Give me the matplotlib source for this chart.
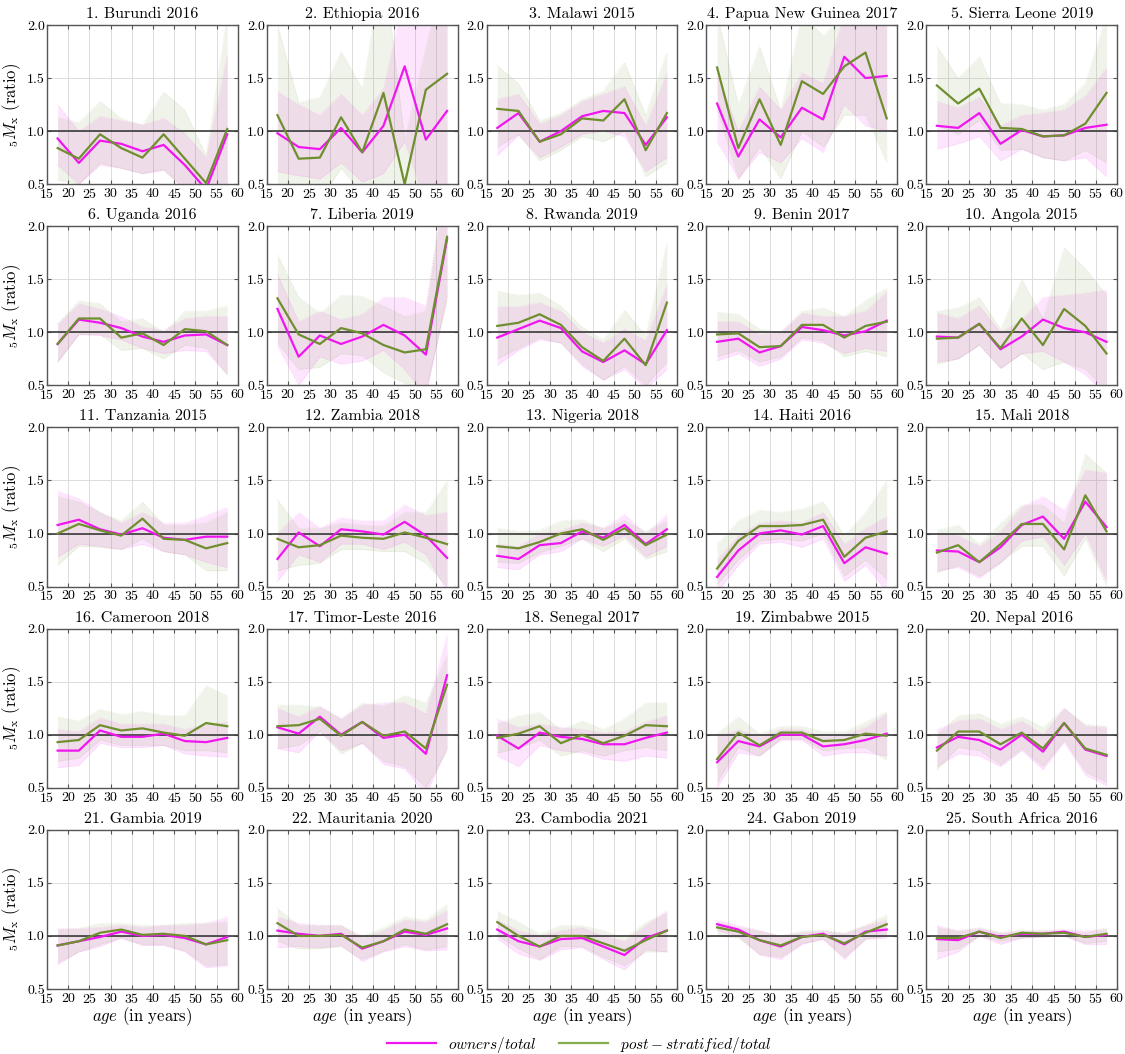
import matplotlib
matplotlib.use("Agg")
import matplotlib.pyplot as plt
from matplotlib.lines import Line2D
import numpy as np

ages = [17.5, 22.5, 27.5, 32.5, 37.5, 42.5, 47.5, 52.5, 57.5]

titles = ["1. Burundi 2016", "2. Ethiopia 2016", "3. Malawi 2015", "4. Papua New Guinea 2017",
          "5. Sierra Leone 2019", "6. Uganda 2016", "7. Liberia 2019", "8. Rwanda 2019",
          "9. Benin 2017", "10. Angola 2015", "11. Tanzania 2015", "12. Zambia 2018",
          "13. Nigeria 2018", "14. Haiti 2016", "15. Mali 2018", "16. Cameroon 2018",
          "17. Timor-Leste 2016", "18. Senegal 2017", "19. Zimbabwe 2015", "20. Nepal 2016",
          "21. Gambia 2019", "22. Mauritania 2020", "23. Cambodia 2021", "24. Gabon 2019",
          "25. South Africa 2016"]

owners = [
    [0.93, 0.70, 0.91, 0.88, 0.81, 0.87, 0.68, 0.45, 0.97],
    [0.98, 0.85, 0.83, 1.03, 0.80, 1.05, 1.61, 0.92, 1.19],
    [1.03, 1.17, 0.90, 1.00, 1.14, 1.19, 1.17, 0.87, 1.13],
    [1.26, 0.76, 1.11, 0.94, 1.22, 1.11, 1.70, 1.50, 1.52],
    [1.05, 1.03, 1.17, 0.88, 1.01, 0.95, 0.96, 1.03, 1.06],
    [0.89, 1.12, 1.09, 1.04, 0.96, 0.91, 0.97, 0.98, 0.88],
    [1.22, 0.77, 0.97, 0.89, 0.96, 1.07, 0.97, 0.79, 1.88],
    [0.95, 1.03, 1.11, 1.04, 0.82, 0.72, 0.83, 0.70, 1.02],
    [0.91, 0.94, 0.81, 0.87, 1.05, 1.02, 0.97, 1.01, 1.11],
    [0.96, 0.95, 1.08, 0.84, 0.96, 1.12, 1.04, 1.00, 0.91],
    [1.08, 1.13, 1.04, 0.99, 1.05, 0.96, 0.94, 0.97, 0.97],
    [0.76, 1.01, 0.88, 1.04, 1.02, 0.99, 1.11, 0.98, 0.77],
    [0.79, 0.76, 0.89, 0.91, 1.02, 0.96, 1.08, 0.90, 1.04],
    [0.59, 0.84, 1.00, 1.03, 0.99, 1.07, 0.72, 0.87, 0.81],
    [0.84, 0.83, 0.73, 0.87, 1.08, 1.16, 0.95, 1.30, 1.06],
    [0.85, 0.85, 1.04, 0.98, 0.98, 1.01, 0.94, 0.93, 0.97],
    [1.07, 1.01, 1.17, 1.00, 1.12, 0.97, 1.00, 0.82, 1.56],
    [0.99, 0.87, 1.02, 0.98, 0.96, 0.91, 0.91, 0.97, 1.02],
    [0.74, 0.94, 0.89, 1.00, 1.00, 0.89, 0.91, 0.95, 1.01],
    [0.88, 0.98, 0.95, 0.86, 1.00, 0.84, 1.11, 0.86, 0.80],
    [0.91, 0.95, 0.99, 1.04, 1.00, 1.01, 0.98, 0.92, 0.99],
    [1.05, 1.02, 1.00, 1.02, 0.88, 0.95, 1.04, 1.01, 1.07],
    [1.06, 0.95, 0.90, 0.97, 0.98, 0.90, 0.82, 0.98, 1.05],
    [1.11, 1.06, 0.96, 0.90, 0.99, 1.02, 0.92, 1.04, 1.06],
    [0.97, 0.96, 1.04, 0.99, 1.02, 1.02, 1.04, 0.99, 1.01],
]

owners_lo = [
    [0.68, 0.50, 0.68, 0.65, 0.60, 0.63, 0.45, 0.30, 0.50],
    [0.62, 0.58, 0.55, 0.70, 0.52, 0.60, 0.90, 0.30, 0.30],
    [0.77, 0.96, 0.75, 0.85, 0.97, 1.00, 0.95, 0.62, 0.75],
    [0.90, 0.55, 0.80, 0.70, 0.93, 0.80, 1.25, 1.05, 1.00],
    [0.83, 0.88, 0.95, 0.72, 0.83, 0.75, 0.72, 0.75, 0.57],
    [0.72, 0.98, 0.97, 0.93, 0.85, 0.80, 0.83, 0.82, 0.60],
    [0.87, 0.50, 0.77, 0.70, 0.73, 0.83, 0.65, 0.40, 1.35],
    [0.69, 0.83, 0.93, 0.90, 0.68, 0.55, 0.65, 0.47, 0.65],
    [0.73, 0.80, 0.68, 0.75, 0.93, 0.90, 0.80, 0.85, 0.82],
    [0.72, 0.75, 0.88, 0.66, 0.80, 0.82, 0.72, 0.60, 0.40],
    [0.78, 0.90, 0.88, 0.85, 0.90, 0.83, 0.80, 0.73, 0.68],
    [0.55, 0.80, 0.73, 0.90, 0.90, 0.85, 0.92, 0.80, 0.45],
    [0.68, 0.66, 0.80, 0.83, 0.95, 0.88, 0.98, 0.78, 0.88],
    [0.45, 0.70, 0.90, 0.92, 0.87, 0.95, 0.55, 0.70, 0.45],
    [0.65, 0.68, 0.58, 0.72, 0.93, 0.97, 0.70, 1.00, 0.55],
    [0.69, 0.71, 0.92, 0.88, 0.88, 0.90, 0.82, 0.80, 0.79],
    [0.87, 0.83, 1.03, 0.85, 0.92, 0.72, 0.68, 0.43, 0.88],
    [0.80, 0.70, 0.90, 0.85, 0.83, 0.77, 0.75, 0.80, 0.78],
    [0.50, 0.83, 0.80, 0.95, 0.95, 0.80, 0.83, 0.83, 0.80],
    [0.70, 0.82, 0.80, 0.70, 0.85, 0.67, 0.93, 0.62, 0.52],
    [0.73, 0.85, 0.90, 0.98, 0.91, 0.91, 0.85, 0.70, 0.72],
    [0.89, 0.90, 0.89, 0.91, 0.76, 0.85, 0.90, 0.86, 0.87],
    [0.97, 0.83, 0.77, 0.87, 0.89, 0.78, 0.68, 0.87, 0.85],
    [1.05, 1.00, 0.82, 0.78, 0.92, 0.97, 0.78, 0.97, 0.98],
    [0.78, 0.85, 1.00, 0.92, 0.98, 0.99, 1.00, 0.92, 0.92],
]

owners_hi = [
    [1.25, 1.00, 1.14, 1.10, 1.06, 1.12, 0.98, 0.75, 1.72],
    [1.37, 1.25, 1.15, 1.35, 1.15, 1.40, 2.30, 2.20, 2.20],
    [1.30, 1.35, 1.07, 1.15, 1.28, 1.35, 1.42, 1.05, 1.55],
    [1.55, 1.00, 1.42, 1.20, 1.55, 1.45, 2.10, 2.10, 2.10],
    [1.28, 1.22, 1.32, 1.05, 1.15, 1.17, 1.20, 1.33, 1.60],
    [1.08, 1.27, 1.22, 1.15, 1.05, 1.02, 1.13, 1.15, 1.15],
    [1.55, 1.10, 1.20, 1.12, 1.17, 1.33, 1.33, 1.25, 2.50],
    [1.24, 1.24, 1.28, 1.20, 1.00, 0.90, 1.03, 0.92, 1.45],
    [1.10, 1.10, 0.98, 1.00, 1.18, 1.15, 1.15, 1.20, 1.38],
    [1.18, 1.13, 1.25, 1.00, 1.12, 1.33, 1.35, 1.37, 1.40],
    [1.40, 1.33, 1.20, 1.10, 1.20, 1.10, 1.10, 1.17, 1.25],
    [1.00, 1.20, 1.05, 1.15, 1.12, 1.12, 1.27, 1.17, 1.20],
    [0.90, 0.88, 1.00, 1.03, 1.10, 1.05, 1.18, 1.00, 1.18],
    [0.75, 0.98, 1.10, 1.12, 1.10, 1.20, 0.90, 1.05, 1.16],
    [1.00, 0.98, 0.88, 1.02, 1.25, 1.35, 1.22, 1.60, 1.57],
    [1.05, 1.03, 1.16, 1.10, 1.10, 1.10, 1.05, 1.10, 1.12],
    [1.25, 1.17, 1.27, 1.15, 1.28, 1.30, 1.30, 1.20, 1.95],
    [1.15, 1.07, 1.10, 1.07, 1.05, 1.02, 1.03, 1.12, 1.18],
    [0.98, 1.05, 0.98, 1.05, 1.05, 0.98, 1.00, 1.07, 1.20],
    [1.05, 1.13, 1.15, 1.05, 1.13, 1.00, 1.25, 1.08, 1.07],
    [1.07, 1.07, 1.08, 1.10, 1.08, 1.10, 1.10, 1.12, 1.18],
    [1.18, 1.12, 1.10, 1.10, 0.98, 1.05, 1.15, 1.13, 1.24],
    [1.15, 1.05, 1.00, 1.05, 1.08, 1.00, 0.95, 1.10, 1.24],
    [1.15, 1.10, 1.05, 1.00, 1.03, 1.05, 1.02, 1.10, 1.15],
    [1.10, 1.05, 1.07, 1.03, 1.05, 1.05, 1.06, 1.05, 1.06],
]

poststrat = [
    [0.84, 0.74, 0.97, 0.84, 0.75, 0.97, 0.74, 0.51, 1.02],
    [1.15, 0.74, 0.75, 1.13, 0.80, 1.36, 0.50, 1.39, 1.54],
    [1.21, 1.19, 0.90, 0.97, 1.12, 1.10, 1.30, 0.82, 1.17],
    [1.60, 0.84, 1.30, 0.87, 1.47, 1.35, 1.61, 1.74, 1.12],
    [1.43, 1.26, 1.40, 1.03, 1.02, 0.95, 0.96, 1.07, 1.36],
    [0.89, 1.13, 1.13, 0.95, 0.99, 0.88, 1.03, 1.01, 0.88],
    [1.32, 0.98, 0.89, 1.04, 0.99, 0.88, 0.81, 0.84, 1.90],
    [1.06, 1.09, 1.17, 1.07, 0.86, 0.73, 0.94, 0.69, 1.28],
    [0.98, 0.99, 0.86, 0.87, 1.07, 1.07, 0.95, 1.06, 1.10],
    [0.94, 0.95, 1.08, 0.85, 1.13, 0.88, 1.22, 1.06, 0.80],
    [1.00, 1.09, 1.03, 0.98, 1.14, 0.95, 0.94, 0.86, 0.91],
    [0.95, 0.87, 0.89, 0.98, 0.96, 0.95, 1.01, 0.96, 0.90],
    [0.88, 0.86, 0.92, 1.00, 1.04, 0.94, 1.05, 0.89, 0.99],
    [0.67, 0.93, 1.07, 1.07, 1.08, 1.13, 0.78, 0.96, 1.02],
    [0.82, 0.89, 0.73, 0.90, 1.09, 1.09, 0.85, 1.36, 1.02],
    [0.93, 0.95, 1.09, 1.04, 1.06, 1.02, 0.99, 1.11, 1.08],
    [1.08, 1.09, 1.15, 0.99, 1.12, 0.99, 1.03, 0.87, 1.47],
    [0.97, 1.01, 1.08, 0.92, 1.00, 0.92, 0.99, 1.09, 1.08],
    [0.77, 1.02, 0.90, 1.02, 1.02, 0.94, 0.95, 1.01, 0.99],
    [0.85, 1.03, 1.03, 0.91, 1.02, 0.87, 1.11, 0.87, 0.81],
    [0.91, 0.95, 1.03, 1.06, 1.01, 1.02, 1.00, 0.92, 0.96],
    [1.12, 1.00, 1.00, 1.01, 0.89, 0.95, 1.06, 1.02, 1.11],
    [1.13, 1.00, 0.90, 1.00, 1.00, 0.93, 0.86, 0.96, 1.05],
    [1.08, 1.04, 0.96, 0.91, 0.99, 1.01, 0.93, 1.03, 1.11],
    [0.98, 0.98, 1.04, 0.98, 1.03, 1.02, 1.03, 0.99, 1.02],
]

poststrat_lo = [
    [0.54, 0.50, 0.70, 0.65, 0.60, 0.64, 0.45, 0.30, 0.45],
    [0.50, 0.40, 0.35, 0.65, 0.40, 0.50, 0.20, 0.40, 0.30],
    [0.85, 0.97, 0.72, 0.82, 0.95, 0.90, 1.00, 0.57, 0.70],
    [1.20, 0.55, 0.85, 0.55, 1.00, 0.85, 1.15, 1.15, 0.70],
    [1.05, 0.97, 1.10, 0.82, 0.83, 0.75, 0.72, 0.82, 0.70],
    [0.72, 0.98, 0.98, 0.83, 0.85, 0.75, 0.88, 0.85, 0.60],
    [0.90, 0.65, 0.67, 0.80, 0.78, 0.62, 0.52, 0.45, 1.30],
    [0.75, 0.85, 0.95, 0.90, 0.70, 0.55, 0.68, 0.50, 0.72],
    [0.77, 0.83, 0.72, 0.77, 0.95, 0.92, 0.77, 0.82, 0.77],
    [0.70, 0.75, 0.88, 0.66, 0.80, 0.65, 0.72, 0.65, 0.45],
    [0.70, 0.88, 0.87, 0.85, 0.95, 0.83, 0.80, 0.65, 0.65],
    [0.65, 0.70, 0.72, 0.85, 0.85, 0.83, 0.83, 0.72, 0.50],
    [0.73, 0.72, 0.82, 0.88, 0.95, 0.83, 0.95, 0.76, 0.83],
    [0.52, 0.75, 0.93, 0.95, 0.93, 1.00, 0.60, 0.75, 0.57],
    [0.63, 0.70, 0.60, 0.73, 0.88, 0.88, 0.60, 0.95, 0.50],
    [0.75, 0.78, 0.95, 0.90, 0.90, 0.90, 0.85, 0.85, 0.83],
    [0.87, 0.90, 1.03, 0.82, 0.92, 0.75, 0.70, 0.50, 0.85],
    [0.83, 0.87, 0.95, 0.80, 0.85, 0.80, 0.85, 0.88, 0.85],
    [0.55, 0.88, 0.80, 0.96, 0.96, 0.85, 0.87, 0.88, 0.76],
    [0.67, 0.88, 0.85, 0.72, 0.87, 0.70, 0.95, 0.65, 0.55],
    [0.75, 0.85, 0.92, 0.98, 0.92, 0.92, 0.86, 0.72, 0.73],
    [0.95, 0.88, 0.88, 0.90, 0.78, 0.86, 0.92, 0.87, 0.90],
    [1.00, 0.88, 0.78, 0.90, 0.90, 0.80, 0.72, 0.85, 0.85],
    [1.00, 0.98, 0.83, 0.80, 0.93, 0.97, 0.80, 0.97, 1.00],
    [0.85, 0.88, 1.00, 0.95, 0.98, 0.99, 1.00, 0.93, 0.95],
]

poststrat_hi = [
    [1.13, 1.08, 1.28, 1.12, 1.06, 1.37, 1.20, 0.77, 2.10],
    [2.00, 1.27, 1.32, 1.75, 1.40, 2.60, 0.92, 1.80, 2.60],
    [1.62, 1.45, 1.10, 1.17, 1.30, 1.38, 1.65, 1.15, 1.75],
    [2.10, 1.25, 1.80, 1.20, 2.10, 1.90, 2.10, 2.20, 2.00],
    [1.80, 1.50, 1.70, 1.26, 1.25, 1.20, 1.25, 1.45, 2.10],
    [1.08, 1.30, 1.27, 1.10, 1.13, 1.00, 1.20, 1.20, 1.25],
    [1.73, 1.33, 1.18, 1.35, 1.34, 1.25, 1.15, 1.20, 2.60],
    [1.39, 1.35, 1.37, 1.25, 1.05, 0.93, 1.21, 0.97, 1.85],
    [1.19, 1.17, 1.03, 1.00, 1.20, 1.23, 1.15, 1.30, 1.42],
    [1.20, 1.23, 1.33, 1.03, 1.50, 1.13, 1.80, 1.60, 1.35],
    [1.35, 1.30, 1.20, 1.12, 1.30, 1.08, 1.08, 1.10, 1.20],
    [1.32, 1.05, 1.05, 1.10, 1.08, 1.07, 1.20, 1.20, 1.50],
    [1.05, 1.02, 1.03, 1.12, 1.13, 1.05, 1.12, 1.02, 1.12],
    [0.90, 1.12, 1.22, 1.20, 1.23, 1.30, 0.98, 1.20, 1.50],
    [1.03, 1.08, 0.90, 1.10, 1.27, 1.27, 1.10, 1.75, 1.57],
    [1.17, 1.13, 1.24, 1.19, 1.22, 1.18, 1.18, 1.46, 1.37],
    [1.28, 1.28, 1.26, 1.15, 1.30, 1.27, 1.37, 1.30, 1.75],
    [1.10, 1.18, 1.21, 1.05, 1.13, 1.05, 1.15, 1.30, 1.30],
    [1.01, 1.17, 1.01, 1.08, 1.08, 1.03, 1.03, 1.12, 1.22],
    [1.00, 1.18, 1.20, 1.10, 1.17, 1.07, 1.25, 1.10, 1.08],
    [1.06, 1.07, 1.12, 1.12, 1.10, 1.10, 1.12, 1.12, 1.13],
    [1.26, 1.10, 1.10, 1.10, 1.00, 1.08, 1.18, 1.15, 1.30],
    [1.23, 1.13, 1.02, 1.10, 1.10, 1.05, 0.98, 1.13, 1.22],
    [1.13, 1.08, 1.05, 1.00, 1.05, 1.05, 1.03, 1.10, 1.20],
    [1.08, 1.05, 1.08, 1.03, 1.05, 1.05, 1.05, 1.03, 1.08],
]

xticks = [15, 20, 25, 30, 35, 40, 45, 50, 55, 60]
yticks = [0.5, 1.0, 1.5, 2.0]
ytick_labels = ["0.5", "1.0", "1.5", "2.0"]
legend_labels = [r"$owners/total$", r"$post-stratified/total$"]

MAG = "#f016f0"
GRN = "#6f8f2f"
GRN_LEG = "#86ad4c"

plt.rcParams["font.family"] = ["cmr10", "DejaVu Serif"]
plt.rcParams["mathtext.fontset"] = "cm"
plt.rcParams["axes.formatter.use_mathtext"] = True
plt.rcParams["axes.unicode_minus"] = False

fig, axes = plt.subplots(5, 5, figsize=(11.25, 10.54), dpi=100)
fig.subplots_adjust(left=0.0418, right=0.993, bottom=0.0617, top=0.9763,
                    wspace=0.152, hspace=0.264)

for i, ax in enumerate(axes.flat):
    ax.set_xlim(15, 60)
    ax.set_ylim(0.5, 2.0)
    ax.set_xticks(xticks)
    ax.set_yticks(yticks)
    ax.set_yticklabels(ytick_labels)
    ax.grid(True, color="#dcdcdc", lw=0.7)
    ax.set_axisbelow(True)
    ax.fill_between(ages, owners_lo[i], owners_hi[i], color=MAG, alpha=0.11, lw=0)
    ax.plot(ages, owners_lo[i], color=MAG, alpha=0.15, lw=0.7, ls=":")
    ax.plot(ages, owners_hi[i], color=MAG, alpha=0.15, lw=0.7, ls=":")
    ax.fill_between(ages, poststrat_lo[i], poststrat_hi[i], color=GRN, alpha=0.10, lw=0)
    ax.plot(ages, poststrat_lo[i], color=GRN, alpha=0.15, lw=0.7, ls=":")
    ax.plot(ages, poststrat_hi[i], color=GRN, alpha=0.15, lw=0.7, ls=":")
    ax.axhline(1.0, color="#3a3a3a", lw=1.2, zorder=3)
    ax.plot(ages, owners[i], color=MAG, lw=1.6, zorder=4)
    ax.plot(ages, poststrat[i], color=GRN, lw=1.6, zorder=5)
    ax.set_title(titles[i], fontsize=11.5, pad=5)
    ax.tick_params(direction="in", length=3, top=True, right=True, labelsize=10,
                   color="#555555", pad=2)
    ax.tick_params(axis="y", pad=1.5)
    for s in ax.spines.values():
        s.set_color("#555555")
        s.set_linewidth(1.0)
    if i % 5 == 0:
        ax.set_ylabel(r"${}_5M_{\mathrm{x}}$ (ratio)", fontsize=12, labelpad=3)
    if i >= 20:
        ax.set_xlabel(r"$age$ (in years)", fontsize=12, labelpad=0)

handles = [Line2D([], [], color=MAG, lw=1.6), Line2D([], [], color=GRN_LEG, lw=1.6)]
fig.legend(handles, legend_labels,
           loc="center", bbox_to_anchor=(0.515, 0.009), ncol=2, frameon=False,
           fontsize=11, handlelength=3.2, columnspacing=1.5)

fig.savefig("out.png", dpi=100)
